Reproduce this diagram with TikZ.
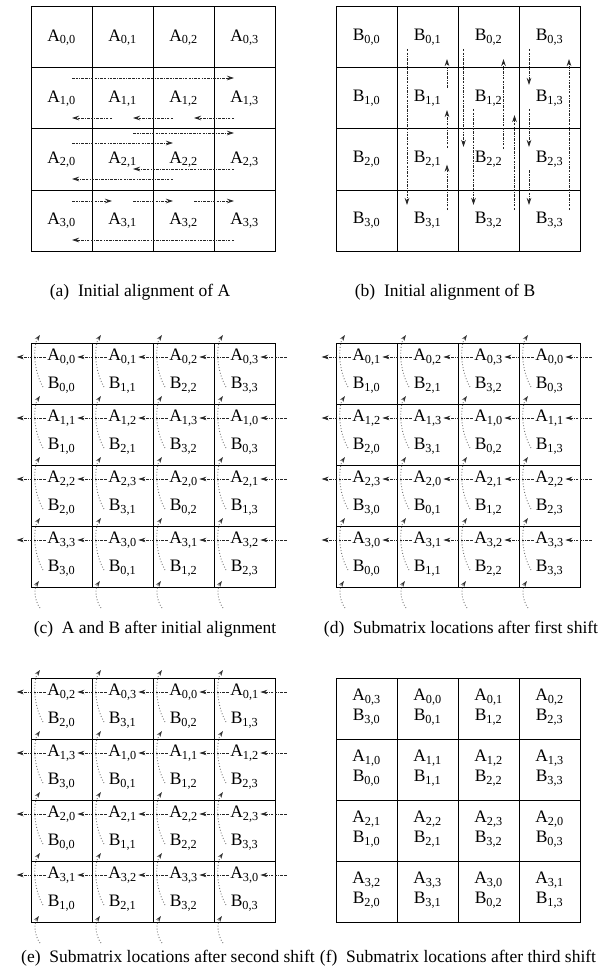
\documentclass[tikz,border=0pt]{standalone}
\usepackage{fontspec}
\setmainfont{Liberation Serif}
\usepackage{tikz}
\usetikzlibrary{arrows.meta,calc,positioning}
\newcommand\cellfont{\fontsize{17.5}{19}\selectfont}
\newcommand\captfont{\fontsize{17.5}{19}\selectfont}

\begin{document}
\begin{tikzpicture}[
        x=1pt, y=-1pt,
        cell/.style={rectangle, draw, line width=1pt, minimum size=61pt,
            inner sep=0pt, outer sep=0pt},
        lbl/.style={inner sep=1.5pt, font=\cellfont},
        capt/.style={inner sep=0pt, font=\captfont},
        shiftarrow/.style={-{Stealth[length=7pt,width=4.5pt]}, line width=0.75pt, black!85,
            dash pattern=on 2.5pt off 1.2pt on 2.5pt off 1.2pt on 0.8pt off 1.2pt},
        liftarrow/.style={-{Stealth[length=6pt,width=4pt,color=black!80]},
            line width=0.9pt, dotted, black!55}
    ]
    \useasboundingbox (0,0) rectangle (598,971);

    % (a) blocks of A
    \foreach \r in {0,...,3}
        \foreach \c in {0,...,3}
            \node[cell, font=\cellfont] (a-\r-\c) at (61.5+61*\c, 37.5+61*\r) {A\textsubscript{\r,\c}};
    \foreach \r/\fr/\tg/\dy in {1/0/3/-20.5, 1/1/0/19.5, 1/2/1/19.5, 1/3/2/19.5,
            2/1/3/-26.5, 2/0/2/-16.5, 2/3/1/9.5, 2/2/0/19.5,
            3/0/1/-19.5, 3/1/2/-19.5, 3/2/3/-19.5, 3/3/0/19.5} {
        \pgfmathsetmacro\sx{\tg>\fr ? 10.5 : -10.5}
        \pgfmathsetmacro\ex{-\sx}
        \draw[shiftarrow] ($(a-\r-\fr.center)+(\sx,\dy)$) -- ($(a-\r-\tg.center)+(\ex,\dy)$);
    }
    \node[capt] (capa) at (140,292) {(a)\ \ Initial alignment of A};

    % (b) blocks of B
    \foreach \r in {0,...,3}
        \foreach \c in {0,...,3}
            \node[cell, font=\cellfont] (b-\r-\c) at (366.5+61*\c, 37.5+61*\r) {B\textsubscript{\r,\c}};
    \foreach \c/\fr/\tg/\dx/\sy/\ey in {1/1/0/19.5/-10.5/21.5, 1/2/1/19.5/-11.5/11.5,
            1/3/2/19.5/-10.5/5, 1/0/3/-20.5/11.5/-15.5,
            2/2/0/15/-10.5/21.5, 2/3/1/26/-10.5/16.5, 2/0/2/-25/11.5/-12.5, 2/1/3/-15/10.5/-15.5,
            3/0/1/-20.5/11.5/-13.5, 3/1/2/-20.5/10.5/-12.5, 3/2/3/-20.5/10.5/-15.5,
            3/3/0/19.5/-10.5/21.5}
        \draw[shiftarrow] ($(b-\fr-\c.center)+(\dx,\sy)$) -- ($(b-\tg-\c.center)+(\dx,\ey)$);
    \node[capt] (capb) at (445,292) {(b)\ \ Initial alignment of B};

    % (c)-(e) alignment and shifts
    \foreach \p/\px/\py/\s in {c/31/343/0, d/336/343/1, e/31/678/2} {
        \foreach \r in {0,...,3}
            \foreach \c in {0,...,3} {
                \pgfmathtruncatemacro\k{mod(\r+\c+\s,4)}
                \node[cell] (\p-\r-\c) at (\px+30.5+61*\c, \py+30.5+61*\r) {};
                \node[lbl] (\p A-\r-\c) at ($(\p-\r-\c.north)+(0,14)$) {A\textsubscript{\r,\k}};
                \node[lbl] (\p B-\r-\c) at ($(\p-\r-\c.north)+(0,42)$) {B\textsubscript{\k,\c}};
            }
        \foreach \r in {0,...,3} {
            \coordinate (\p out-\r) at ($(\p A-\r-0.center)+(-45,0)$);
            \coordinate (\p in-\r) at ($(\p A-\r-3.center)+(42,0)$);
            \draw[shiftarrow] (\p in-\r) -- (\p A-\r-3.east);
            \foreach \c [evaluate=\c as \cm using int(\c-1)] in {1,2,3}
                \draw[shiftarrow] (\p A-\r-\c.west) -- (\p A-\r-\cm.east);
            \draw[shiftarrow] (\p A-\r-0.west) -- (\p out-\r);
        }
        \foreach \r in {0,...,3}
            \foreach \c in {0,...,3}
                \draw[liftarrow] ($(\p-\r-\c.north west)+(12,44)$) .. controls +(-10,-17) and +(-7,10) .. ($(\p-\r-\c.north west)+(9,-8)$);
        \foreach \c in {0,...,3}
            \draw[liftarrow] ($(\p-3-\c.south west)+(9,21)$) .. controls +(-6,-8) and +(-5,7) .. ($(\p-3-\c.south west)+(8,-6)$);
    }
    \node[capt] (capc) at (155,629) {(c)\ \ A and B after initial alignment};
    \node[capt] (capd) at (461,629) {(d)\ \ Submatrix locations after first shift};
    \node[capt] (cape) at (168,958) {(e)\ \ Submatrix locations after second shift};

    % (f) after third shift
    \foreach \r in {0,...,3}
        \foreach \c in {0,...,3} {
            \pgfmathtruncatemacro\k{mod(\r+\c+3,4)}
            \node[cell] (f-\r-\c) at (366.5+61*\c, 708.5+61*\r) {};
            \node[lbl] (fA-\r-\c) at ($(f-\r-\c.north)+(0,19)$) {A\textsubscript{\r,\k}};
            \node[lbl] (fB-\r-\c) at ($(f-\r-\c.north)+(0,39)$) {B\textsubscript{\k,\c}};
        }
    \node[capt] (capf) at (458,958) {(f)\ \ Submatrix locations after third shift};
\end{tikzpicture}
\end{document}
